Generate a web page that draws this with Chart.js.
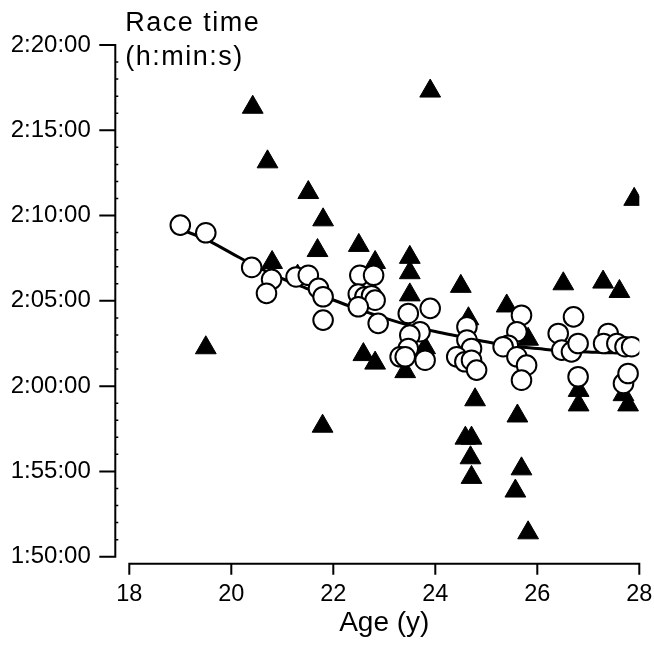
<!DOCTYPE html>
<html>
<head>
<meta charset="utf-8">
<title>Race time vs age</title>
<script src="https://cdn.jsdelivr.net/npm/chart.js@4.4.0/dist/chart.umd.min.js"></script>
<style>
  html, body { margin: 0; padding: 0; background: #fff; }
  #wrap { width: 654px; height: 646px; }
</style>
</head>
<body>
<div id="wrap"><canvas id="raceChart" width="654" height="646"></canvas></div>
<script>
// Race times are kept in minutes (110 = 1:50:00, 140 = 2:20:00)

// filled triangles
const triAge = [19.50, 20.42, 20.71, 20.80, 21.30, 21.51, 21.69, 21.80, 21.79, 22.50,
                22.59, 22.82, 22.82, 23.41, 23.50, 23.50, 23.50, 23.80, 23.90, 24.50,
                24.65, 24.59, 24.71, 24.69, 24.71, 24.78, 25.40, 25.57, 25.61, 25.69,
                25.82, 25.82, 26.51, 26.81, 26.81, 27.29, 27.61, 27.69, 27.78, 27.90];
const triTime = [122.25, 136.35, 133.15, 127.25, 126.45, 131.35, 127.95, 129.75, 117.65, 128.25,
                 121.85, 127.25, 121.35, 120.85, 127.55, 126.65, 125.35, 122.25, 137.30, 125.85,
                 123.95, 116.95, 116.95, 115.80, 114.65, 119.20, 124.70, 113.85, 118.25, 115.15,
                 111.40, 122.75, 126.00, 119.75, 118.90, 126.10, 125.55, 119.50, 118.90, 130.95];

// open circles
const circAge = [19.00, 19.50, 20.40, 20.79, 20.69, 21.27, 21.51, 21.71, 21.80, 21.80,
                 22.52, 22.79, 22.49, 22.62, 22.75, 22.82, 22.49, 22.88, 23.90, 23.47,
                 23.70, 23.50, 23.47, 23.31, 23.41, 23.80, 24.62, 24.62, 24.71, 24.42,
                 24.58, 24.71, 24.81, 25.69, 25.60, 25.43, 25.33, 25.60, 25.79, 25.69,
                 26.71, 26.41, 26.48, 26.67, 26.80, 26.80, 27.39, 27.30, 27.56, 27.72,
                 27.85, 27.69, 27.78];
const circTime = [129.44, 128.99, 126.96, 126.26, 125.44, 126.40, 126.50, 125.73, 125.24, 123.87,
                  126.50, 126.50, 125.40, 125.24, 125.30, 125.04, 124.65, 123.68, 124.56, 124.26,
                  123.19, 122.99, 122.21, 121.72, 121.72, 121.52, 123.48, 122.70, 122.21, 121.72,
                  121.43, 121.52, 120.94, 124.16, 123.19, 122.40, 122.31, 121.72, 121.23, 120.35,
                  124.06, 123.09, 122.11, 122.01, 122.50, 120.55, 123.09, 122.50, 122.50, 122.31,
                  122.31, 120.16, 120.74];

// fitted curve through the circles
const fitAge = [19.0, 19.5, 20.0, 20.5, 21.0, 21.5, 22.0, 22.5, 23.0, 23.5,
                24.0, 24.5, 25.0, 25.5, 26.0, 26.5, 27.0, 27.5, 28.0];
const fitTime = [129.2, 128.6, 127.8, 127.0, 126.3, 125.7, 125.05, 124.5, 124.0, 123.55,
                 123.2, 122.9, 122.6, 122.35, 122.2, 122.05, 122.0, 121.95, 121.95];

const xTicks = [18, 20, 22, 24, 26, 28];
const yTicks = [110, 115, 120, 125, 130, 135, 140];
const yTickLabels = ['1:50:00', '1:55:00', '2:00:00', '2:05:00', '2:10:00', '2:15:00', '2:20:00'];
const yTitle = ['Race time', '(h:min:s)'];

const FONT = '"Liberation Sans", Arial, Helvetica, sans-serif';
Chart.defaults.font.family = FONT;
Chart.defaults.color = '#000';

const toPoints = (xs, ys) => xs.map((v, i) => ({ x: v, y: ys[i] }));

// draws the detached axis lines, minute ticks and the two-line y title
const detachedAxes = {
    id: 'detachedAxes',
    beforeDatasetsDraw(chart) {
        const { ctx, chartArea, scales: { x, y } } = chart;
        const axX = chartArea.left - 14;
        const axY = chartArea.bottom + 7;
        ctx.save();
        ctx.strokeStyle = '#000';
        ctx.lineWidth = 2;
        ctx.lineCap = 'square';
        ctx.beginPath();
        ctx.moveTo(axX, y.getPixelForValue(y.max));
        ctx.lineTo(axX, y.getPixelForValue(y.min));
        y.ticks.forEach(t => {
            const py = y.getPixelForValue(t.value);
            ctx.moveTo(axX - 15, py);
            ctx.lineTo(axX, py);
        });
        ctx.moveTo(x.getPixelForValue(x.min), axY);
        ctx.lineTo(x.getPixelForValue(x.max), axY);
        x.ticks.forEach(t => {
            const px = x.getPixelForValue(t.value);
            ctx.moveTo(px, axY);
            ctx.lineTo(px, axY + 10);
        });
        ctx.stroke();

        // one-minute minor ticks
        ctx.lineWidth = 1.5;
        ctx.lineCap = 'butt';
        ctx.beginPath();
        for (let m = y.min + 1; m < y.max; m++) {
            if (m % 5 === 0) continue;
            const py = y.getPixelForValue(m);
            ctx.moveTo(axX, py);
            ctx.lineTo(axX + 3, py);
        }
        ctx.stroke();

        ctx.fillStyle = '#000';
        ctx.font = '27px ' + FONT;
        if ('letterSpacing' in ctx) ctx.letterSpacing = '1.5px';
        ctx.textAlign = 'left';
        ctx.textBaseline = 'alphabetic';
        ctx.fillText(yTitle[0], chartArea.left - 4, chartArea.top - 14);
        ctx.fillText(yTitle[1], chartArea.left - 4, chartArea.top + 20);
        ctx.restore();
    }
};

new Chart(document.getElementById('raceChart'), {
    type: 'scatter',
    data: {
        datasets: [
            {
                label: 'circles',
                data: toPoints(circAge, circTime),
                pointStyle: 'circle',
                pointRadius: 9.8,
                pointHoverRadius: 9.8,
                backgroundColor: '#fff',
                borderColor: '#000',
                pointBorderWidth: 2
            },
            {
                label: 'fit',
                data: toPoints(fitAge, fitTime),
                showLine: true,
                pointRadius: 0,
                pointHoverRadius: 0,
                borderColor: '#000',
                borderWidth: 3,
                cubicInterpolationMode: 'monotone'
            },
            {
                label: 'triangles',
                data: toPoints(triAge, triTime),
                pointStyle: 'triangle',
                pointRadius: 12,
                pointHoverRadius: 12,
                backgroundColor: '#000',
                borderColor: '#000',
                pointBorderWidth: 1
            }
        ]
    },
    options: {
        responsive: false,
        animation: false,
        layout: { padding: { top: 45, right: 14.7, bottom: 0, left: 0 } },
        plugins: {
            legend: { display: false },
            tooltip: { enabled: false }
        },
        scales: {
            x: {
                type: 'linear',
                min: 18,
                max: 28,
                afterBuildTicks: s => { s.ticks = xTicks.map(v => ({ value: v })); },
                afterFit: s => { s.height = 89.3; },
                // tick marks are drawn by the plugin; tickLength only offsets the labels
                grid: { display: false, drawTicks: true, tickLength: 23.5 },
                border: { display: false },
                ticks: { padding: 0, font: { size: 23.5 }, color: '#000', maxRotation: 0 },
                title: {
                    display: true,
                    text: 'Age (y)',
                    font: { size: 28 },
                    color: '#000',
                    padding: { top: 0, bottom: 6.3 }
                }
            },
            y: {
                type: 'linear',
                min: 110,
                max: 140,
                afterBuildTicks: s => { s.ticks = yTicks.map(v => ({ value: v })); },
                afterFit: s => { s.width = 129.3; },
                grid: { display: false, drawTicks: true, tickLength: 38.5 },
                border: { display: false },
                ticks: {
                    padding: 0,
                    font: { size: 24 },
                    color: '#000',
                    callback: v => yTickLabels[yTicks.indexOf(v)]
                }
            }
        }
    },
    plugins: [detachedAxes]
});
</script>
</body>
</html>
